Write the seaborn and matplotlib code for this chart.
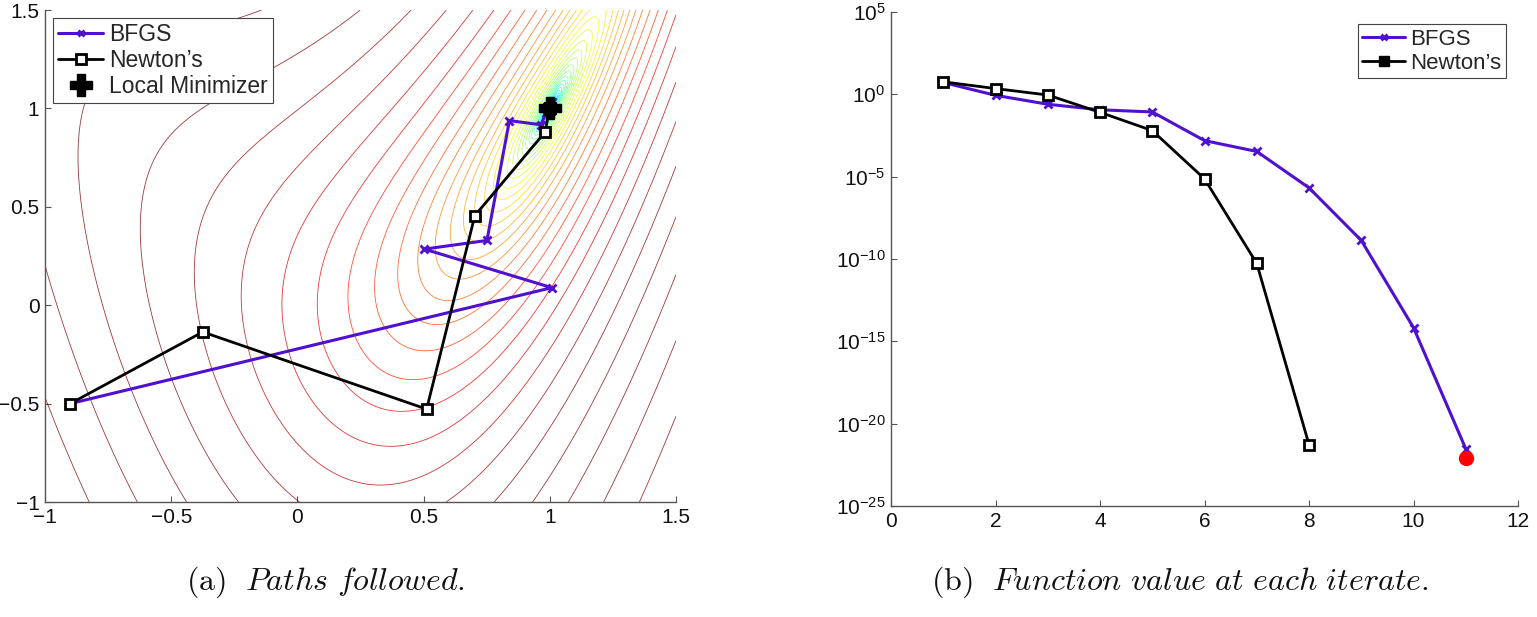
import numpy as np
import pandas as pd
import matplotlib
matplotlib.use("Agg")
import matplotlib.pyplot as plt
from matplotlib.colors import Normalize
from matplotlib.lines import Line2D
import seaborn as sns

# ---------------- data ----------------
# (a) iterate paths in the plane
bfgs_x = [-0.90, 1.008, 0.503, 0.751, 0.840, 0.964, 0.985, 1.001, 1.010, 1.000, 1.000]
bfgs_y = [-0.50, 0.089, 0.285, 0.329, 0.938, 0.917, 0.975, 1.003, 1.030, 1.000, 1.000]
newton_x = [-0.90, -0.375, 0.512, 0.703, 0.982, 0.998, 1.000, 1.000]
newton_y = [-0.50, -0.136, -0.528, 0.455, 0.881, 0.996, 1.000, 1.000]
minimizer = (1.0, 1.0)

# (b) function value at each iterate
bfgs_iter = [1, 2, 3, 4, 5, 6, 7, 8, 9, 10, 11]
bfgs_f = [5.25, 0.87, 0.25, 0.115, 0.085, 1.55e-3, 3.4e-4, 2.1e-6, 1.35e-9, 6.8e-15, 3.0e-22]
newton_iter = [1, 2, 3, 4, 5, 6, 7, 8]
newton_f = [5.75, 2.24, 0.91, 0.081, 6.3e-3, 7.4e-6, 5.4e-11, 5.4e-22]
final_point = (11, 8.5e-23)

left_xticks = [-1, -0.5, 0, 0.5, 1, 1.5]
left_yticks = [-1, -0.5, 0, 0.5, 1, 1.5]
right_xticks = [0, 2, 4, 6, 8, 10, 12]
right_yexp = [5, 0, -5, -10, -15, -20, -25]

caption_a = r"$\mathrm{(a)}\ \ \mathit{Paths\ followed.}$"
caption_b = r"$\mathrm{(b)}\ \ \mathit{Function\ value\ at\ each\ iterate.}$"

# ---------------- style ----------------
sns.set_theme(style="white")
plt.rcParams["font.family"] = ["Liberation Sans", "DejaVu Sans"]
plt.rcParams["mathtext.fontset"] = "custom"
plt.rcParams["mathtext.rm"] = "Liberation Sans"
plt.rcParams["mathtext.it"] = "Liberation Sans:italic"
plt.rcParams["mathtext.bf"] = "Liberation Sans:bold"

PURPLE = "#4f10d0"
TXT = "#111111"
SPINE = "#555555"
FS_TICK = 15
FS_LEG = 16.5

fig = plt.figure(figsize=(15.37, 6.17), dpi=100)
axL = fig.add_axes([45 / 1537, 1 - 502 / 617, 631 / 1537, 492 / 617])
axR = fig.add_axes([891 / 1537, 1 - 506 / 617, 627 / 1537, 494 / 617])

# ---------------- (a) contour + paths ----------------
gx = np.linspace(-1, 1.5, 600)
gy = np.linspace(-1, 1.5, 600)
GX, GY = np.meshgrid(gx, gy)
GZ = np.log((1 - GX) ** 2 + (GY - GX ** 2) ** 2)
levels = -12.05 + 0.283 * np.arange(0, 52)
axL.contour(GX, GY, GZ, levels=levels, cmap="jet",
            norm=Normalize(vmin=-11.0, vmax=1.0), linewidths=0.6, alpha=0.78)

df_b = pd.DataFrame({"x": bfgs_x, "y": bfgs_y})
df_n = pd.DataFrame({"x": newton_x, "y": newton_y})
sns.lineplot(data=df_b, x="x", y="y", sort=False, estimator=None, ax=axL,
             color=PURPLE, lw=2.2, marker="x", markersize=6, mew=2,
             mec=PURPLE, zorder=4)
sns.lineplot(data=df_n, x="x", y="y", sort=False, estimator=None, ax=axL,
             color="black", lw=2.0, marker="s", markersize=6.5, mew=2,
             mec="black", mfc="white", zorder=5)
axL.plot([minimizer[0]], [minimizer[1]], marker="P", markersize=16,
         color="black", mec="black", ls="none", zorder=6)

axL.set_xlim(-1, 1.5)
axL.set_ylim(-1, 1.5)
axL.set_xticks(left_xticks)
axL.set_yticks(left_yticks)
axL.set_xticklabels(["\u22121", "\u22120.5", "0", "0.5", "1", "1.5"])
axL.set_yticklabels(["\u22121", "\u22120.5", "0", "0.5", "1", "1.5"])
axL.set_xlabel("")
axL.set_ylabel("")

hL = [Line2D([], [], color=PURPLE, lw=2.2, marker="x", markersize=5, mew=2),
      Line2D([], [], color="black", lw=2.0, marker="s", markersize=6.5, mew=2, mfc="white"),
      Line2D([], [], color="black", ls="none", marker="P", markersize=16)]
legL = axL.legend(hL, ["BFGS", "Newton\u2019s", "Local Minimizer"], loc="upper left",
                  bbox_to_anchor=(0.0, 1.0), borderaxespad=0.35, fontsize=FS_LEG,
                  fancybox=False, framealpha=1, edgecolor="#444444",
                  handlelength=2.0, handletextpad=0.25, borderpad=0.2,
                  labelspacing=0.15)
legL.get_frame().set_linewidth(0.8)

# ---------------- (b) function values ----------------
df_bf = pd.DataFrame({"it": bfgs_iter, "f": bfgs_f})
df_nf = pd.DataFrame({"it": newton_iter, "f": newton_f})
sns.lineplot(data=df_bf, x="it", y="f", sort=False, estimator=None, ax=axR,
             color=PURPLE, lw=2.2, marker="x", markersize=6, mew=2,
             mec=PURPLE, zorder=4)
sns.lineplot(data=df_nf, x="it", y="f", sort=False, estimator=None, ax=axR,
             color="black", lw=2.0, marker="s", markersize=6.5, mew=2,
             mec="black", mfc="white", zorder=5)
axR.plot([final_point[0]], [final_point[1]], marker="o", markersize=10,
         color="red", mec="red", ls="none", zorder=6)
axR.set_yscale("log")
axR.set_xlim(0, 12)
axR.set_ylim(1e-25, 1e5)
axR.set_xticks(right_xticks)
axR.set_yticks([10.0 ** e for e in right_yexp])
axR.set_yticklabels([r"$10^{%s}$" % ("\u2212%d" % -e if e < 0 else "%d" % e)
                     for e in right_yexp])
axR.minorticks_off()
axR.set_xlabel("")
axR.set_ylabel("")

hR = [Line2D([], [], color=PURPLE, lw=2.2, marker="x", markersize=5, mew=2),
      Line2D([], [], color="black", lw=2.0, marker="s", markersize=6.5)]
legR = axR.legend(hR, ["BFGS", "Newton\u2019s"], loc="upper right",
                  bbox_to_anchor=(1.0, 1.0), borderaxespad=0.55, fontsize=16,
                  fancybox=False, framealpha=1, edgecolor="#444444",
                  handlelength=1.9, handletextpad=0.25, borderpad=0.2,
                  labelspacing=0.15)
legR.get_frame().set_linewidth(0.8)

for ax in (axL, axR):
    sns.despine(ax=ax, top=True, right=True)
    for s in ("left", "bottom"):
        ax.spines[s].set_color(SPINE)
        ax.spines[s].set_linewidth(1.0)
    ax.tick_params(direction="in", length=4, width=0.8, color=SPINE,
                   labelsize=FS_TICK, labelcolor=TXT, pad=4,
                   left=True, bottom=True)
    ax.set_facecolor("white")

fig.text(326 / 1537, 1 - 582 / 617, caption_a, ha="center", va="center",
         fontsize=23, color=TXT, math_fontfamily="cm")
fig.text(1180 / 1537, 1 - 582 / 617, caption_b, ha="center", va="center",
         fontsize=23, color=TXT, math_fontfamily="cm")

fig.savefig("out.png", dpi=100, facecolor="white")
